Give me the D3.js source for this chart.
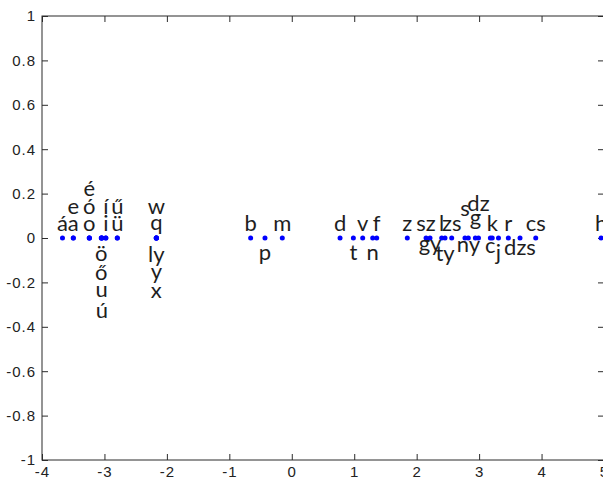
<!DOCTYPE html>
<html>
<head>
<meta charset="utf-8">
<script src="https://cdn.jsdelivr.net/npm/d3@7"></script>
<style>
  html, body { margin: 0; padding: 0; background: #fff; }
  svg { display: block; }
</style>
</head>
<body>
<svg id="chart" width="603" height="482"></svg>
<script>
// Hungarian letters placed along one dimension
const letters = ["á","a","e","ó","o","é","ö","ő","u","ú","í","i","ü","ű",
                 "w","q","ly","y","x",
                 "b","p","m",
                 "d","t","v","n","f",
                 "z","sz","gy","l","ty","zs","s","ny","g","dz","c","k","j","r","dzs","cs",
                 "h"];
const coord = [-3.672,-3.499,-3.499,-3.242,-3.242,-3.242,-3.050,-3.050,-3.044,-3.040,-2.978,-2.978,-2.794,-2.794,
               -2.169,-2.169,-2.169,-2.169,-2.169,
               -0.659,-0.429,-0.152,
               0.773,0.986,1.136,1.296,1.360,
               1.850,2.150,2.214,2.401,2.454,2.561,2.774,2.827,2.940,2.990,3.180,3.210,3.310,3.468,3.655,3.907,
               4.953];
// vertical anchor (baseline) of each letter's label, in axis units
const labelY = [0.032,0.032,0.106,0.106,0.032,0.191,-0.104,-0.19,-0.264,-0.36,0.106,0.032,0.032,0.106,
                0.110,0.036,-0.106,-0.185,-0.272,
                0.032,-0.099,0.032,
                0.032,-0.099,0.032,-0.099,0.032,
                0.032,0.032,-0.059,0.032,-0.104,0.032,0.097,-0.063,0.059,0.122,-0.068,0.032,-0.099,0.032,-0.077,0.032,
                0.032];

const xTicks = [-4,-3,-2,-1,0,1,2,3,4,5];
const yTicks = [-1,-0.8,-0.6,-0.4,-0.2,0,0.2,0.4,0.6,0.8,1];

const svg = d3.select("#chart");
const x = d3.scaleLinear().domain([-4, 5]).range([42, 604]);
const y = d3.scaleLinear().domain([-1, 1]).range([460, 16]);

const axisColor = "#2b2b2b";
const tickFont = "'Liberation Sans', Arial, sans-serif";

// plot box
svg.append("rect")
  .attr("x", x(-4)).attr("y", y(1))
  .attr("width", x(5) - x(-4)).attr("height", y(-1) - y(1))
  .attr("fill", "none").attr("stroke", axisColor).attr("stroke-width", 1);

const fmt = d => d3.format("")(+d.toFixed(1)).replace("−", "-");

// left axis, ticks pointing inward
const gl = svg.append("g").attr("transform", `translate(${x(-4)},0)`)
  .call(d3.axisLeft(y).tickValues(yTicks).tickSizeInner(-6).tickSizeOuter(0).tickPadding(6).tickFormat(fmt));
// bottom axis, ticks pointing inward
const gb = svg.append("g").attr("transform", `translate(0,${y(-1)})`)
  .call(d3.axisBottom(x).tickValues(xTicks).tickSizeInner(-6).tickSizeOuter(0).tickPadding(4).tickFormat(fmt));
// mirrored ticks on right and top
const gr = svg.append("g").attr("transform", `translate(${x(5)},0)`)
  .call(d3.axisRight(y).tickValues(yTicks).tickSizeInner(-6).tickSizeOuter(0).tickFormat(""));
const gt = svg.append("g").attr("transform", `translate(0,${y(1)})`)
  .call(d3.axisTop(x).tickValues(xTicks).tickSizeInner(-6).tickSizeOuter(0).tickFormat(""));

[gl, gb, gr, gt].forEach(g => {
  g.select(".domain").remove();
  g.selectAll("line").attr("stroke", axisColor);
  g.selectAll("text")
    .attr("fill", "#222")
    .style("font-family", tickFont)
    .style("font-size", "15px")
    .style("letter-spacing", "1px");
});
gb.selectAll("text").attr("dy", "0.85em");

// points
svg.append("g").selectAll("circle")
  .data(letters)
  .join("circle")
  .attr("cx", (d, i) => x(coord[i]))
  .attr("cy", y(0))
  .attr("r", 2.5)
  .attr("fill", "#0000ff");

// letter labels
svg.append("g").selectAll("text")
  .data(letters)
  .join("text")
  .attr("x", (d, i) => x(coord[i]))
  .attr("y", (d, i) => y(labelY[i]))
  .attr("text-anchor", "middle")
  .attr("fill", "#1e1e1e")
  .style("font-family", "Lato, 'Open Sans', sans-serif")
  .style("font-size", "22px")
  .text(d => d);
</script>
</body>
</html>
